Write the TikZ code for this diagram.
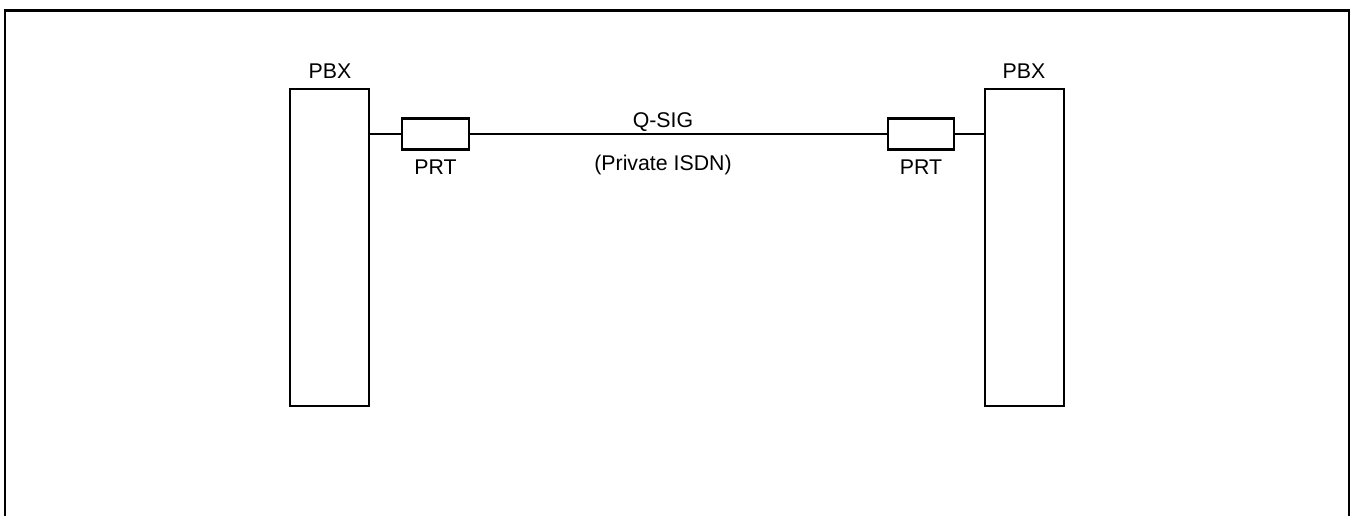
\documentclass[tikz,border=0pt]{standalone}
\usepackage{fontspec}
\setmainfont{Liberation Sans}
\begin{document}
\begin{tikzpicture}[x=1pt,y=-1pt,
  box/.style={draw,line width=2.2pt,inner sep=0pt,outer sep=0pt},
  lbl/.style={inner sep=0pt,font=\fontsize{21.3}{24}\selectfont},
  wire/.style={line width=2.2pt}]
\useasboundingbox (0,0) rectangle (1352,516);
% outer frame, open at the bottom
\draw[line width=2.4pt] (5,516) -- (5,10.5) -- (1349,10.5) -- (1349,516);
% exchanges
\node[box,minimum width=79pt,minimum height=317pt] (lpbx) at (329.5,247.5) {};
\node[box,minimum width=79pt,minimum height=317pt] (rpbx) at (1024.5,247.5) {};
\node[lbl] (lpbxl) at (330,71) {PBX};
\node[lbl] (rpbxl) at (1024,71) {PBX};
% trunk ports
\node[box,minimum width=67pt,minimum height=31pt] (lprt) at (435.5,134) {};
\node[box,minimum width=66pt,minimum height=31pt] (rprt) at (921,134) {};
\node[lbl] (lprtl) at (435.5,167) {PRT};
\node[lbl] (rprtl) at (921,167) {PRT};
% links
\draw[wire] (lpbx.east |- lprt.west) -- (lprt.west);
\draw[wire] (lprt.east) -- (rprt.west);
\draw[wire] (rprt.east) -- (rpbx.west |- rprt.east);
\node[lbl] (qsig) at (663,122) {Q-SIG};
\node[lbl] (isdn) at (663,165) {(Private ISDN)};
\end{tikzpicture}
\end{document}
